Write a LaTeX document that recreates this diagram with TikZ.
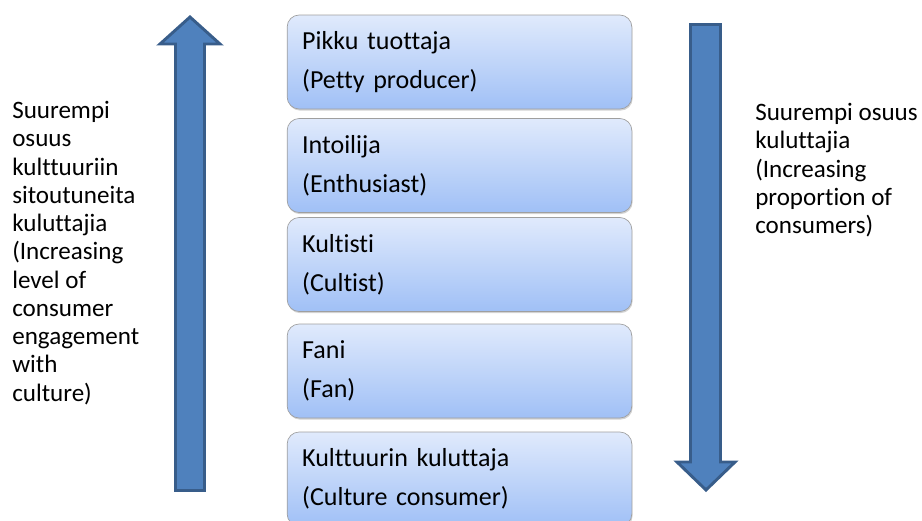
\documentclass[tikz,border=0pt]{standalone}
\usepackage{fontspec}
\setmainfont{Carlito}[Ligatures=NoCommon]
\usepackage{tikz}
\usetikzlibrary{shadows}

\definecolor{arrowfill}{RGB}{79,129,189}
\definecolor{arrowline}{RGB}{56,93,138}
\definecolor{boxtop}{RGB}{224,234,252}
\definecolor{boxbottom}{RGB}{160,192,246}

\tikzset{
    stagebox/.style={draw=gray!75, line width=0.5pt, rounded corners=9pt,
        top color=boxtop, bottom color=boxbottom,
        drop shadow={shadow xshift=0.6pt, shadow yshift=-1.2pt, opacity=0.35},
        text width=236pt, inner xsep=11.25pt, inner ysep=0pt,
        minimum height=70.5pt, align=left,
        font=\fontsize{19.5}{29}\selectfont},
    sidetext/.style={inner sep=0pt, align=left,
        font=\fontsize{18.8}{21.2}\selectfont},
    bigarrow/.style={fill=arrowfill, draw=arrowline, line width=2.2pt, line join=miter}
}

\begin{document}
\begin{tikzpicture}[x=0.75pt, y=-0.75pt]
        \useasboundingbox (0,0) rectangle (922,521);

        % arrows
        \draw[bigarrow] (175.5,490.5) -- (175.5,44) -- (160,44) -- (190,17)
            -- (220,44) -- (204.5,44) -- (204.5,490.5) -- cycle;
        \draw[bigarrow] (690.5,24.5) -- (690.5,462) -- (677,462) -- (706,490)
            -- (735,462) -- (720.5,462) -- (720.5,24.5) -- cycle;

        % stages
        \node[stagebox] (producer) at (459.5,62) {Pikku tuottaja\\(Petty producer)};
        \node[stagebox] (enthusiast) at (459.5,165.5) {Intoilija\\(Enthusiast)};
        \node[stagebox] (cultist) at (459.5,264.5) {Kultisti\\(Cultist)};
        \node[stagebox] (fan) at (459.5,371) {Fani\\(Fan)};
        \node[stagebox] (consumer) at (459.5,479) {Kulttuurin kuluttaja\\(Culture consumer)};

        % side texts
        \node[sidetext, anchor=north west] (engagement) at (12,101)
            {Suurempi\\osuus\\kulttuuriin\\sitoutuneita\\kuluttajia\\(Increasing\\level of\\consumer\\engagement\\with\\culture)};
        \node[sidetext, anchor=north west] (proportion) at (755,103)
            {Suurempi osuus\\kuluttajia\\(Increasing\\proportion of\\consumers)};
    \end{tikzpicture}
\end{document}
